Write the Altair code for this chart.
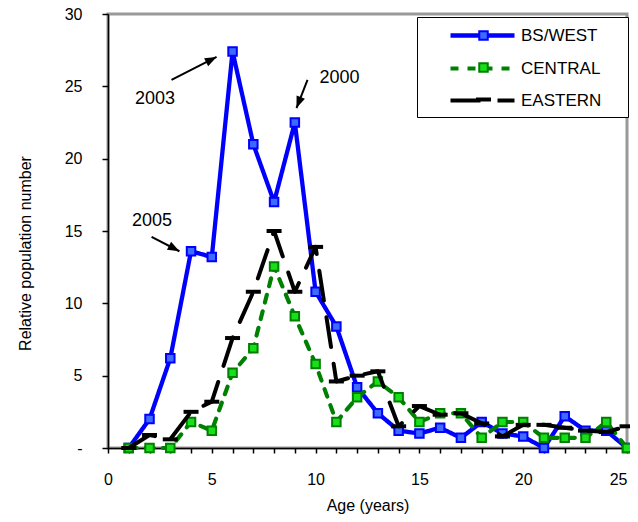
import math
import altair as alt
import pandas as pd

ages = list(range(1, 26))
series_names = ["BS/WEST", "CENTRAL", "EASTERN"]
bs_west = [0, 2.0, 6.2, 13.6, 13.2, 27.4, 21.0, 17.0, 22.5, 10.8, 8.4, 4.2, 2.4,
           1.2, 1.0, 1.4, 0.7, 1.8, 1.0, 0.8, 0.0, 2.2, 1.2, 1.2, 0.0]
central = [0, 0.0, 0.0, 1.8, 1.2, 5.2, 6.9, 12.55, 9.1, 5.8, 1.8, 3.5, 4.6,
           3.5, 1.8, 2.4, 2.4, 0.7, 1.8, 1.8, 0.7, 0.7, 0.7, 1.8, 0.0]
eastern = [0, 0.9, 0.6, 2.5, 3.2, 7.6, 10.8, 15.0, 10.8, 13.9, 4.6, 5.0, 5.3,
           1.5, 2.9, 2.3, 2.4, 1.7, 0.8, 1.6, 1.6, 1.4, 1.2, 1.1, 1.5]

ann_text = ["2003", "2000", "2005"]
ann_x = [2.26, 11.15, 2.12]
ann_y = [24.1, 25.6, 15.7]
arrow_x = [3.06, 9.61, 2.10]
arrow_y = [25.45, 25.45, 14.6]
arrow_x2 = [5.23, 9.08, 3.44]
arrow_y2 = [27.03, 23.5, 13.6]

x_ticks = list(range(0, 26))
y_ticks = [0, 5, 10, 15, 20, 25, 30]

line_colors = ["#0000FF", "#008000", "#000000"]
marker_fill = ["#3D6BFF", "#18E018", "#000000"]
marker_stroke = ["#0000FF", "#008000", "#000000"]
dashes = [[1, 0], [8, 9], [30, 17]]
widths = [4.3, 4, 5]
square = "M-0.85,-0.85H0.85V0.85H-0.85Z"
bar = "M-1.3,-0.2H1.3V0.2H-1.3Z"
shapes = [square, square, bar]
legend_line = "M-6.4,0H6.4"

marker_names = [n + " markers" for n in series_names]

rows = []
for name, mname, vals in zip(series_names, marker_names, [bs_west, central, eastern]):
    for a, v in zip(ages, vals):
        rows.append({"age": a, "value": v, "series": name, "series_m": mname})
df = pd.DataFrame(rows)

W, H = 519, 434
PX, PY = W / 25.0, H / 30.0
ann_rows = []
for t, tx, ty, x1, y1, x2, y2 in zip(ann_text, ann_x, ann_y, arrow_x, arrow_y, arrow_x2, arrow_y2):
    dx = (x2 - x1) * PX
    dy = -(y2 - y1) * PY
    ang = math.degrees(math.atan2(dx, -dy)) % 360
    ann_rows.append({"t": t, "tx": tx, "ty": ty, "x1": x1, "y1": y1, "x2": x2, "y2": y2, "ang": ang})
ann = pd.DataFrame(ann_rows)

FONT = "Liberation Sans"
NB = "\u00a0"

xs = alt.Scale(domain=[0, 25], nice=False)
ys = alt.Scale(domain=[0, 30], nice=False)

# invisible, tiny title used only to give the legend box its width
spacer = "M" * 117
leg_common = dict(orient="none", legendX=309,
                  labelFont=FONT, labelFontSize=17, labelColor="black",
                  padding=8, rowPadding=14)
leg1 = alt.Legend(title=spacer, titleOpacity=0, titleFontSize=2, titleLimit=400,
                  titlePadding=0, titleOrient="top", legendY=3,
                  symbolType=legend_line, symbolSize=100, symbolStrokeWidth=4,
                  strokeColor="black", fillColor="white", symbolOffset=49, labelOffset=30,
                  **leg_common)
leg2 = alt.Legend(title=None, legendY=5,
                  symbolSize=100, symbolStrokeWidth=2, symbolOffset=50, labelOffset=5,
                  labelExpr="'" + NB + "'", **leg_common)

x_axis = alt.Axis(
    values=x_ticks, labelExpr="datum.value % 5 == 0 ? datum.label : ''",
    labelOverlap=False, labelFlush=False,
    labelAlign={"condition": {"test": "datum.value == 25", "value": "right"}, "value": "center"},
    title="Age (years)", grid=False, tickSize=5, labelPadding=18,
    titleY=57, titleBaseline="middle")
y_axis = alt.Axis(
    values=y_ticks, labelExpr="datum.value == 0 ? '-" + NB * 2 + "' : datum.label",
    labelOverlap=False, labelFlush=False,
    title="Relative population number", grid=False, tickSize=6, labelPadding=20,
    titleX=-83, titleY=239, titleAngle=270, titleAlign="center", titleBaseline="middle")

x_enc = alt.X("age:Q", scale=xs, axis=x_axis)
y_enc = alt.Y("value:Q", scale=ys, axis=y_axis)

color_enc = alt.Color("series:N", scale=alt.Scale(domain=series_names, range=line_colors), legend=leg1)
dash_enc = alt.StrokeDash("series:N", scale=alt.Scale(domain=series_names, range=dashes), legend=leg1)
sw_enc = alt.StrokeWidth("series:N", scale=alt.Scale(domain=series_names, range=widths), legend=None)
fill_enc = alt.Fill("series_m:N", scale=alt.Scale(domain=marker_names, range=marker_fill), legend=leg2)
stroke_enc = alt.Stroke("series_m:N", scale=alt.Scale(domain=marker_names, range=marker_stroke), legend=leg2)
shape_enc = alt.Shape("series_m:N", scale=alt.Scale(domain=marker_names, range=shapes), legend=leg2)

base = alt.Chart(df)
layers = []
for name in series_names:
    layers.append(base.transform_filter(alt.datum.series == name).mark_line(
        strokeCap="round", strokeJoin="round").encode(
        x=x_enc, y=y_enc, color=color_enc, strokeDash=dash_enc, strokeWidth=sw_enc, order="age:Q"))
    layers.append(base.transform_filter(alt.datum.series == name).mark_point(
        filled=True, size=100, strokeWidth=2, opacity=1).encode(
        x=x_enc, y=y_enc, fill=fill_enc, stroke=stroke_enc, shape=shape_enc))

abase = alt.Chart(ann)
arrows = abase.mark_rule(color="black", strokeWidth=2).encode(
    x=alt.X("x1:Q", scale=xs, axis=x_axis), y=alt.Y("y1:Q", scale=ys, axis=y_axis),
    x2="x2:Q", y2="y2:Q")
heads = abase.mark_point(shape="M0,0L0.5,1.3L-0.5,1.3Z", filled=True, color="black",
                         size=324, opacity=1).encode(
    x=alt.X("x2:Q", scale=xs, axis=x_axis), y=alt.Y("y2:Q", scale=ys, axis=y_axis),
    angle=alt.Angle("ang:Q", scale=None))
texts = abase.mark_text(font=FONT, fontSize=18, color="black").encode(
    x=alt.X("tx:Q", scale=xs, axis=x_axis), y=alt.Y("ty:Q", scale=ys, axis=y_axis), text="t:N")

chart = alt.layer(*layers, arrows, heads, texts).properties(
    width=W, height=H,
    autosize=alt.AutoSizeParams(type="none"),
    padding={"left": 100, "top": 6, "right": 3, "bottom": 66},
).configure_view(
    stroke="#999999", strokeWidth=3
).configure_axis(
    labelFont=FONT, labelFontSize=16, labelColor="black",
    titleFont=FONT, titleFontSize=16, titleFontWeight="normal", titleColor="black",
    domainColor="black", domainWidth=1.5, tickColor="black", tickWidth=1.5,
    labelOverlap=False, zindex=1
)

chart.save("out.html", embed_options={"renderer": "svg", "actions": False})
